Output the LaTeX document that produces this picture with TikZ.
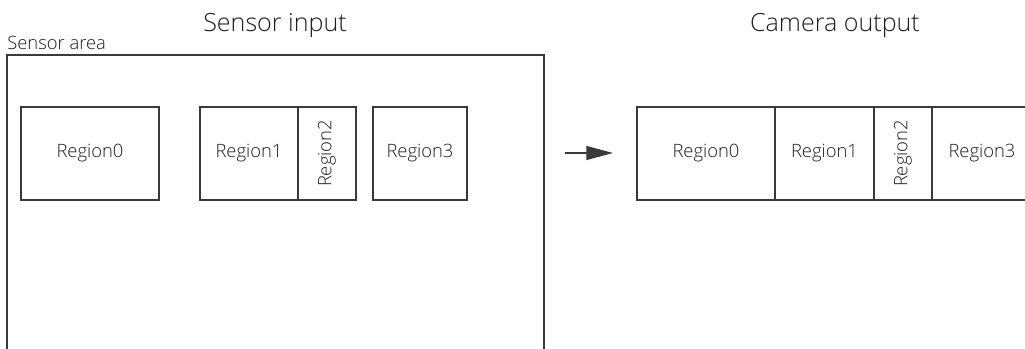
\documentclass[tikz,border=0pt]{standalone}
\usepackage{fontspec}
\setmainfont{Open Sans Light}
\usetikzlibrary{positioning,arrows.meta}
\definecolor{linegray}{HTML}{3A3A3A}
\definecolor{textgray}{HTML}{1E1E1E}

\begin{document}
\begin{tikzpicture}[x=0.75pt,y=-0.75pt,
    region/.style={draw=linegray,line width=0.9pt,outer sep=0pt,inner sep=0pt,
        minimum height=69.75pt,text=textgray,font=\fontsize{13.8}{16}\selectfont},
    regiontext/.style={text=textgray,font=\fontsize{13.8}{16}\selectfont,inner sep=0pt},
    title/.style={text=textgray,font=\fontsize{18.8}{22}\selectfont}]
    \useasboundingbox (0,0) rectangle (1025,349);
    \clip (0,0) rectangle (1025,349);

    % Left diagram: sensor input
    \node[title] (sensortitle) at (275,25) {Sensor input};
    \node[regiontext,anchor=west] (sensorlabel) at (7,43) {Sensor area};
    \draw[linegray,line width=0.9pt] (7,360) -- (7,55) -- (544,55) -- (544,360);
    \node[region,anchor=north west,minimum width=103.5pt] (in0) at (21,107) {Region0};
    \node[region,anchor=north west,minimum width=73.5pt] (in1) at (200,107) {Region1};
    \node[region,right=0pt of in1,minimum width=43.5pt] (in2) {};
    \node[regiontext,rotate=90] (in2text) at (in2) {Region2};
    \node[region,anchor=north west,minimum width=70.5pt] (in3) at (373,107) {Region3};

    % Arrow between the two
    \coordinate (arrowtail) at (565,153);
    \coordinate (arrowtip) at (613,153);
    \draw[linegray,line width=0.9pt,-{Triangle[length=20pt,width=10.5pt]}] (arrowtail) -- (arrowtip);

    % Right diagram: camera output
    \node[title] (cameratitle) at (835,25) {Camera output};
    \node[region,anchor=north west,minimum width=103.5pt] (out0) at (637,107) {Region0};
    \node[region,right=0pt of out0,minimum width=74.25pt] (out1) {Region1};
    \node[region,right=0pt of out1,minimum width=43.5pt] (out2) {};
    \node[regiontext,rotate=90] (out2text) at (out2) {Region2};
    \node[region,right=0pt of out2,minimum width=75pt] (out3) {Region3};
\end{tikzpicture}
\end{document}
